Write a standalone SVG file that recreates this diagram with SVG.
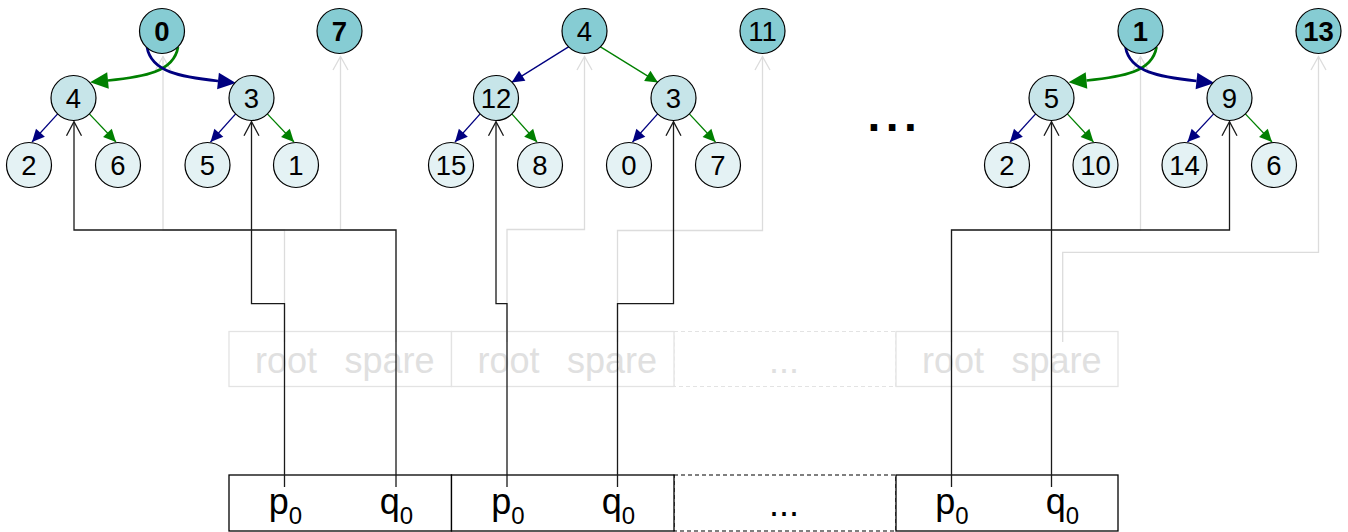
<svg xmlns="http://www.w3.org/2000/svg" width="1348" height="532" viewBox="0 0 1348 532">
  <style>
    .node circle { stroke: #000; stroke-width: 1.2; }
    .root { fill: #86CCD3; }
    .mid { fill: #C7E5E9; }
    .leaf { fill: #E4F2F4; }
    .lbl { font-family: "Liberation Sans", Arial, sans-serif; font-size: 27.5px; text-anchor: middle; fill: #000; }
    .b { font-weight: bold; }
    .nv { fill: none; stroke: #000080; stroke-width: 1.3; marker-end: url(#hNavy); }
    .gr { fill: none; stroke: #008000; stroke-width: 1.3; marker-end: url(#hGreen); }
    .nvT { fill: none; stroke: #000080; stroke-width: 2.7; marker-end: url(#hNavyL); }
    .grT { fill: none; stroke: #008000; stroke-width: 2.7; marker-end: url(#hGreenL); }
    .ptr { fill: none; stroke: #1a1a1a; stroke-width: 1.3; marker-end: url(#openBlack); }
    .ghost { fill: none; stroke: #dcdcdc; stroke-width: 1.3; marker-end: url(#openGrey); }
    .cell { fill: #fff; stroke: #000; stroke-width: 1.3; }
    .cellDash { fill: #fff; stroke: #000; stroke-width: 1.2; stroke-dasharray: 4 3; }
    .fcell { fill: #fff; stroke: #e3e3e3; stroke-width: 1.3; }
    .fcellDash { fill: #fff; stroke: #e3e3e3; stroke-width: 1.2; stroke-dasharray: 4 3; }
    .txt { font-family: "Liberation Sans", Arial, sans-serif; font-size: 36px; text-anchor: middle; fill: #000; }
    .ftxt { font-family: "Liberation Sans", Arial, sans-serif; font-size: 36px; text-anchor: middle; fill: #e0e0e0; }
    .sub { font-size: 24px; }
  </style>
  <defs>
    <marker id="hNavy" markerUnits="userSpaceOnUse" markerWidth="14" markerHeight="14" refX="12.5" refY="6" orient="auto" overflow="visible">
      <path d="M0,0 L12.5,6 L0,12 z" fill="#000080"/>
    </marker>
    <marker id="hGreen" markerUnits="userSpaceOnUse" markerWidth="14" markerHeight="14" refX="12.5" refY="6" orient="auto" overflow="visible">
      <path d="M0,0 L12.5,6 L0,12 z" fill="#008000"/>
    </marker>
    <marker id="hNavyL" markerUnits="userSpaceOnUse" markerWidth="20" markerHeight="18" refX="0" refY="8.3" orient="auto" overflow="visible">
      <path d="M0,0 L18,8.3 L0,16.6 z" fill="#000080"/>
    </marker>
    <marker id="hGreenL" markerUnits="userSpaceOnUse" markerWidth="20" markerHeight="18" refX="0" refY="8.3" orient="auto" overflow="visible">
      <path d="M0,0 L18,8.3 L0,16.6 z" fill="#008000"/>
    </marker>
    <marker id="openBlack" markerUnits="userSpaceOnUse" markerWidth="16" markerHeight="16" refX="0" refY="0" orient="auto" overflow="visible">
      <path d="M-14,-7.5 L0,0 L-14,7.5" fill="none" stroke="#1a1a1a" stroke-width="1.3"/>
    </marker>
    <marker id="openGrey" markerUnits="userSpaceOnUse" markerWidth="16" markerHeight="16" refX="0" refY="0" orient="auto" overflow="visible">
      <path d="M-13.5,-7.5 L0,0 L-13.5,7.5" fill="none" stroke="#dcdcdc" stroke-width="1.3"/>
    </marker>
  </defs>

  <!-- slot table: root / spare (faded) -->
  <g id="slots">
    <rect class="fcellDash" x="674" y="331.5" width="222" height="55"/>
    <rect class="fcell" x="229" y="331.5" width="222.5" height="55"/>
    <rect class="fcell" x="451.5" y="331.5" width="222.5" height="55"/>
    <rect class="fcell" x="896" y="331.5" width="222" height="55"/>
    <text class="ftxt" x="286" y="372.5">root</text>
    <text class="ftxt" x="389.5" y="372.5">spare</text>
    <text class="ftxt" x="508.5" y="372.5">root</text>
    <text class="ftxt" x="612" y="372.5">spare</text>
    <text class="ftxt" x="784" y="372.5">...</text>
    <text class="ftxt" x="953" y="372.5">root</text>
    <text class="ftxt" x="1056.5" y="372.5">spare</text>
  </g>

  <!-- pointer table: p0 / q0 -->
  <g id="pointers">
    <rect class="cellDash" x="674" y="475" width="222" height="56"/>
    <rect class="cell" x="229" y="475" width="222.5" height="56"/>
    <rect class="cell" x="451.5" y="475" width="222.5" height="56"/>
    <rect class="cell" x="896" y="475" width="222" height="56"/>
    <text class="txt" x="285.5" y="514">p<tspan class="sub" dy="10">0</tspan></text>
    <text class="txt" x="396.5" y="514">q<tspan class="sub" dy="10">0</tspan></text>
    <text class="txt" x="508" y="514">p<tspan class="sub" dy="10">0</tspan></text>
    <text class="txt" x="618.5" y="514">q<tspan class="sub" dy="10">0</tspan></text>
    <text class="txt" x="784" y="516">...</text>
    <text class="txt" x="952" y="514">p<tspan class="sub" dy="10">0</tspan></text>
    <text class="txt" x="1062.5" y="514">q<tspan class="sub" dy="10">0</tspan></text>
  </g>

  <g id="connectors">
    <!-- slot links (faded) -->
    <path class="ghost" d="M284.5,342 V230 H163 V56.5"/>
    <path class="ghost" d="M396,342 V230 H340.5 V56.5"/>
    <path class="ghost" d="M507,342 V229.5 H584.5 V56.5"/>
    <path class="ghost" d="M617.5,342 V230.5 H762.5 V56.5"/>
    <path class="ghost" d="M951.5,342 V230 H1140.5 V56.5"/>
    <path class="ghost" d="M1062.7,342 V252.3 H1318.5 V56.5"/>

    <!-- pointer links -->
    <path class="ptr" d="M396,487 V230 H74 V121.7"/>
    <path class="ptr" d="M284.5,487 V303.7 H251.5 V121.7"/>
    <path class="ptr" d="M507,487 V303.7 H496 V121.7"/>
    <path class="ptr" d="M617.5,487 V303.7 H673.5 V121.7"/>
    <path class="ptr" d="M951.5,487 V230 H1229.5 V121.7"/>
    <path class="ptr" d="M1051.5,487 V121.7"/>

    <!-- heap 1 -->
    <path class="grT" d="M178,47 C174,72 144,77 108,80.5"/>
    <path class="nvT" d="M147,47 C151,72 181,77 218,81"/>
    <line class="nv" x1="57.9" y1="113.6" x2="32" y2="142"/>
    <line class="gr" x1="89.1" y1="113.6" x2="116" y2="142"/>
    <line class="nv" x1="235.9" y1="113.6" x2="210.5" y2="142"/>
    <line class="gr" x1="267.1" y1="113.6" x2="294" y2="142"/>

    <!-- heap 2 -->
    <line class="nv" x1="568.9" y1="46.6" x2="511.6" y2="82.4"/>
    <line class="gr" x1="600.1" y1="46.6" x2="657.9" y2="82.4"/>
    <line class="nv" x1="480.4" y1="113.6" x2="455" y2="142"/>
    <line class="gr" x1="511.6" y1="113.6" x2="537" y2="142"/>
    <line class="nv" x1="657.9" y1="113.6" x2="632.5" y2="142"/>
    <line class="gr" x1="689.1" y1="113.6" x2="715.5" y2="142"/>

    <!-- heap 3 -->
    <path class="grT" d="M1156.5,47 C1152.5,72 1122.5,77 1086.5,80.5"/>
    <path class="nvT" d="M1125.5,47 C1129.5,72 1159.5,77 1196.5,81"/>
    <line class="nv" x1="1035.9" y1="113.6" x2="1010" y2="142"/>
    <line class="gr" x1="1067.1" y1="113.6" x2="1093.5" y2="142"/>
    <line class="nv" x1="1213.9" y1="113.6" x2="1187.5" y2="142"/>
    <line class="gr" x1="1245.1" y1="113.6" x2="1272" y2="142"/>
  </g>

  <!-- heap 1 nodes -->
  <g id="h1-0" class="node"><circle class="root" cx="162" cy="31" r="22.5"/><text class="lbl b" x="162" y="41">0</text></g>
  <g id="h1-7" class="node"><circle class="root" cx="339.5" cy="31" r="22.5"/><text class="lbl b" x="339.5" y="41">7</text></g>
  <g id="h1-4" class="node"><circle class="mid" cx="73.5" cy="98" r="22.5"/><text class="lbl" x="73.5" y="108">4</text></g>
  <g id="h1-3" class="node"><circle class="mid" cx="251.5" cy="98" r="22.5"/><text class="lbl" x="251.5" y="108">3</text></g>
  <g id="h1-2" class="node"><circle class="leaf" cx="29" cy="165" r="22.5"/><text class="lbl" x="29" y="175">2</text></g>
  <g id="h1-6" class="node"><circle class="leaf" cx="118" cy="165" r="22.5"/><text class="lbl" x="118" y="175">6</text></g>
  <g id="h1-5" class="node"><circle class="leaf" cx="207.5" cy="165" r="22.5"/><text class="lbl" x="207.5" y="175">5</text></g>
  <g id="h1-1" class="node"><circle class="leaf" cx="296" cy="165" r="22.5"/><text class="lbl" x="296" y="175">1</text></g>

  <!-- heap 2 nodes -->
  <g id="h2-4" class="node"><circle class="root" cx="584.5" cy="31" r="22.5"/><text class="lbl" x="584.5" y="41">4</text></g>
  <g id="h2-11" class="node"><circle class="root" cx="762.5" cy="31" r="22.5"/><text class="lbl" x="762.5" y="41">11</text></g>
  <g id="h2-12" class="node"><circle class="mid" cx="496" cy="98" r="22.5"/><text class="lbl" x="496" y="108">12</text></g>
  <g id="h2-3" class="node"><circle class="mid" cx="673.5" cy="98" r="22.5"/><text class="lbl" x="673.5" y="108">3</text></g>
  <g id="h2-15" class="node"><circle class="leaf" cx="451" cy="165" r="22.5"/><text class="lbl" x="451" y="175">15</text></g>
  <g id="h2-8" class="node"><circle class="leaf" cx="540" cy="165" r="22.5"/><text class="lbl" x="540" y="175">8</text></g>
  <g id="h2-0" class="node"><circle class="leaf" cx="629" cy="165" r="22.5"/><text class="lbl" x="629" y="175">0</text></g>
  <g id="h2-7" class="node"><circle class="leaf" cx="718" cy="165" r="22.5"/><text class="lbl" x="718" y="175">7</text></g>

  <!-- gap marker -->
  <text id="gap" x="867.5" y="130.7" font-family="Liberation Sans, Arial, sans-serif" font-size="46" font-weight="bold" letter-spacing="5.5" fill="#000">...</text>

  <!-- heap 3 nodes -->
  <g id="h3-1" class="node"><circle class="root" cx="1140.5" cy="31" r="22.5"/><text class="lbl b" x="1140.5" y="41">1</text></g>
  <g id="h3-13" class="node"><circle class="root" cx="1318.5" cy="31" r="22.5"/><text class="lbl b" x="1318.5" y="41">13</text></g>
  <g id="h3-5" class="node"><circle class="mid" cx="1051.5" cy="98" r="22.5"/><text class="lbl" x="1051.5" y="108">5</text></g>
  <g id="h3-9" class="node"><circle class="mid" cx="1229.5" cy="98" r="22.5"/><text class="lbl" x="1229.5" y="108">9</text></g>
  <g id="h3-2" class="node"><circle class="leaf" cx="1007" cy="165" r="22.5"/><text class="lbl" x="1007" y="175">2</text></g>
  <g id="h3-10" class="node"><circle class="leaf" cx="1095.5" cy="165" r="22.5"/><text class="lbl" x="1095.5" y="175">10</text></g>
  <g id="h3-14" class="node"><circle class="leaf" cx="1184.5" cy="165" r="22.5"/><text class="lbl" x="1184.5" y="175">14</text></g>
  <g id="h3-6" class="node"><circle class="leaf" cx="1274" cy="165" r="22.5"/><text class="lbl" x="1274" y="175">6</text></g>
</svg>
